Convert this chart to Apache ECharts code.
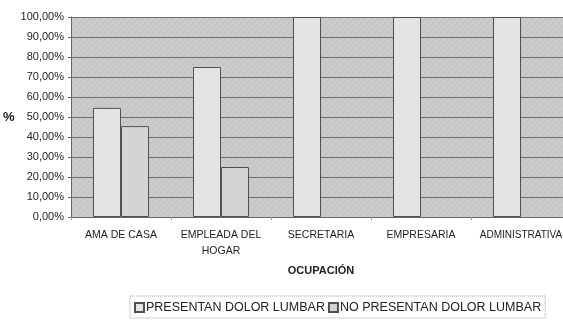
<!DOCTYPE html>
<html>
<head>
<meta charset="utf-8">
<script src="https://cdn.jsdelivr.net/npm/echarts@6/dist/echarts.min.js"></script>
<style>
  html, body { margin: 0; padding: 0; background: #ffffff; }
  #chart { width: 563px; height: 320px; }
</style>
</head>
<body>
<div id="chart"></div>
<script>
// Occupations on the horizontal axis
const categories = ['AMA DE CASA', 'EMPLEADA DEL\nHOGAR', 'SECRETARIA', 'EMPRESARIA', 'ADMINISTRATIVA'];
// Share of each group (fraction of 1)
const presentan = [0.5455, 0.75, 1.0, 1.0, 1.0];
const noPresentan = [0.4545, 0.25, 0, 0, 0];
const seriesNames = ['PRESENTAN DOLOR LUMBAR', 'NO PRESENTAN DOLOR LUMBAR'];
const yTicks = { min: 0, max: 1, interval: 0.1 };

const FONT = '"Liberation Sans", Arial, sans-serif';

// Fine diagonal hatch used as the plot-area fill
function hatchPattern(base, stroke) {
  const c = document.createElement('canvas');
  c.width = 6; c.height = 6;
  const g = c.getContext('2d');
  g.fillStyle = base; g.fillRect(0, 0, 6, 6);
  g.strokeStyle = stroke; g.lineWidth = 1;
  g.beginPath();
  g.moveTo(0, 6); g.lineTo(6, 0);
  g.moveTo(-3, 3); g.lineTo(3, -3);
  g.moveTo(3, 9); g.lineTo(9, 3);
  g.stroke();
  return { image: c, repeat: 'repeat' };
}

// The last label sits at the right edge, so it gets a slightly smaller size
const categoryData = categories.map((c, i) =>
  i === categories.length - 1
    ? { value: c, textStyle: { fontSize: 10, fontFamily: FONT, color: '#222' } }
    : c
);

const chart = echarts.init(document.getElementById('chart'), null, { renderer: 'canvas' });

chart.setOption({
  animation: false,
  backgroundColor: '#ffffff',
  textStyle: { fontFamily: FONT },
  grid: {
    left: 71, top: 17, width: 500, height: 200,
    outerBoundsMode: 'none',
    containLabel: false,
    show: true, backgroundColor: hatchPattern('#cbcbcb', '#bebebe'), borderWidth: 0
  },
  legend: {
    top: 296,
    left: 130,
    width: 430,
    itemWidth: 9,
    itemHeight: 9,
    itemGap: 3,
    padding: [5, 4, 4, 4],
    borderColor: '#a0a0a0',
    borderWidth: 1,
    borderType: 'dotted',
    icon: 'rect',
    textStyle: { fontFamily: FONT, fontSize: 12.5, color: '#222', padding: [0, 0, 0, -3] },
    data: seriesNames
  },
  xAxis: {
    type: 'category',
    data: categoryData,
    name: 'OCUPACIÓN',
    nameLocation: 'middle',
    nameGap: 48,
    nameTextStyle: { fontFamily: FONT, fontSize: 11, fontWeight: 'bold', color: '#222' },
    axisLine: { lineStyle: { color: '#666', width: 1 } },
    axisTick: { show: true, length: 3, lineStyle: { color: '#999' } },
    axisLabel: { interval: 0, fontFamily: FONT, fontSize: 10.5, color: '#222', margin: 10, lineHeight: 16 },
    splitLine: { show: false }
  },
  yAxis: {
    type: 'value',
    min: yTicks.min, max: yTicks.max, interval: yTicks.interval,
    name: '%',
    nameLocation: 'middle',
    nameRotate: 0,
    nameGap: 54,
    nameTextStyle: { fontFamily: FONT, fontSize: 13, fontWeight: 'bold', color: '#222' },
    axisLine: { show: true, lineStyle: { color: '#666', width: 1 } },
    axisTick: { show: true, length: 3, lineStyle: { color: '#666' } },
    axisLabel: {
      fontFamily: FONT, fontSize: 11, color: '#222', margin: 7,
      formatter: v => (v * 100).toFixed(2).replace('.', ',') + '%'
    },
    splitLine: { show: true, lineStyle: { color: '#6e6e6e', width: 1 } }
  },
  series: [
    {
      name: seriesNames[0],
      type: 'bar',
      data: presentan,
      barWidth: 28,
      barGap: '0%',
      itemStyle: { color: '#e4e4e4', borderColor: '#505050', borderWidth: 1 }
    },
    {
      name: seriesNames[1],
      type: 'bar',
      data: noPresentan.map(v => (v === 0 ? '-' : v)),
      barWidth: 28,
      barGap: '0%',
      itemStyle: { color: '#d4d4d4', borderColor: '#505050', borderWidth: 1 }
    }
  ]
});
</script>
</body>
</html>
